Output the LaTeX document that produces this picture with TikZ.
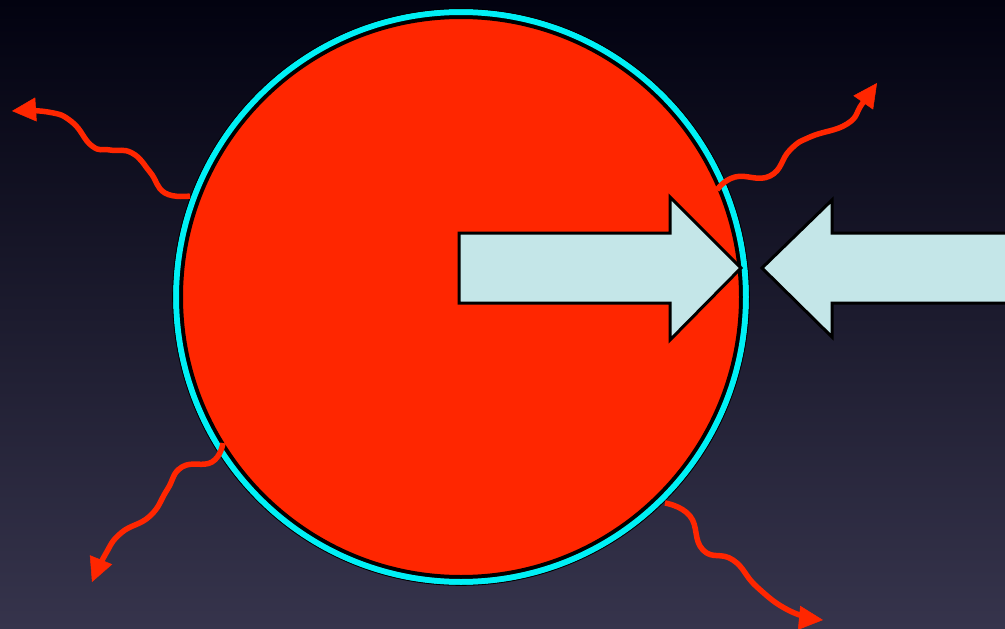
\documentclass[tikz,border=0pt]{standalone}
\usepackage{tikz}
\usetikzlibrary{positioning, arrows.meta}
\usepackage{xcolor}

\definecolor{bgtop}{RGB}{2,2,16}
\definecolor{bgbot}{RGB}{54,52,76}
\definecolor{ballred}{RGB}{255,38,0}
\definecolor{ringcyan}{RGB}{0,240,245}
\definecolor{pushblue}{RGB}{196,230,232}

\tikzset{
    ball/.style={circle, fill=ballred, draw=black, line width=4pt, minimum size=560pt, inner sep=0pt},
    wave/.style={draw=ballred, line width=5.5pt, -{Triangle[length=24pt, width=24pt, line width=0.5pt]}},
    push/.style={fill=pushblue, draw=black, line width=3pt, line join=miter}
}

\begin{document}
\begin{tikzpicture}[x=1pt, y=-1pt]
    % Background
    \shade[top color=bgtop, bottom color=bgbot] (0,0) rectangle (1005,629);
    \useasboundingbox (0,0) rectangle (1005,629);

    % The ball and its rings
    \node[ball] (ball) at (461,297) {};
    \draw[ringcyan, line width=6pt] (ball.center) circle (285);
    \draw[black, line width=0.8pt] (ball.center) circle (288.4);

    % Radiation leaving the ball
    \coordinate (w1s) at (190,196);
    \coordinate (w1e) at (12,111);
    \draw[wave] plot[smooth, tension=0.8] coordinates {(w1s) (165,193) (150,172) (132,153) (110,150) (92,146) (72,122) (48,112) (w1e)};

    \coordinate (w2s) at (717,190);
    \coordinate (w2e) at (877,83);
    \draw[wave] plot[smooth, tension=0.8] coordinates {(w2s) (735,177) (770,176) (790,150) (810,137) (847,124) (862,104) (w2e)};

    \coordinate (w3s) at (223,443);
    \coordinate (w3e) at (92,582);
    \draw[wave] plot[smooth, tension=0.8] coordinates {(w3s) (212,462) (182,467) (167,490) (150,516) (121,533) (105,555) (w3e)};

    \coordinate (w4s) at (665,503);
    \coordinate (w4e) at (823,620);
    \draw[wave] plot[smooth, tension=0.8] coordinates {(w4s) (690,516) (703,550) (733,560) (757,587) (790,611) (w4e)};

    % Push from inside
    \draw[push] (459,233) -- (670,233) -- (670,197) -- (741,268) -- (670,340)
        -- (670,303) -- (459,303) -- cycle;

    % Push from outside
    \draw[push] (1010,233) -- (832,233) -- (832,200) -- (762,268) -- (832,337)
        -- (832,303) -- (1010,303) -- cycle;
\end{tikzpicture}
\end{document}
